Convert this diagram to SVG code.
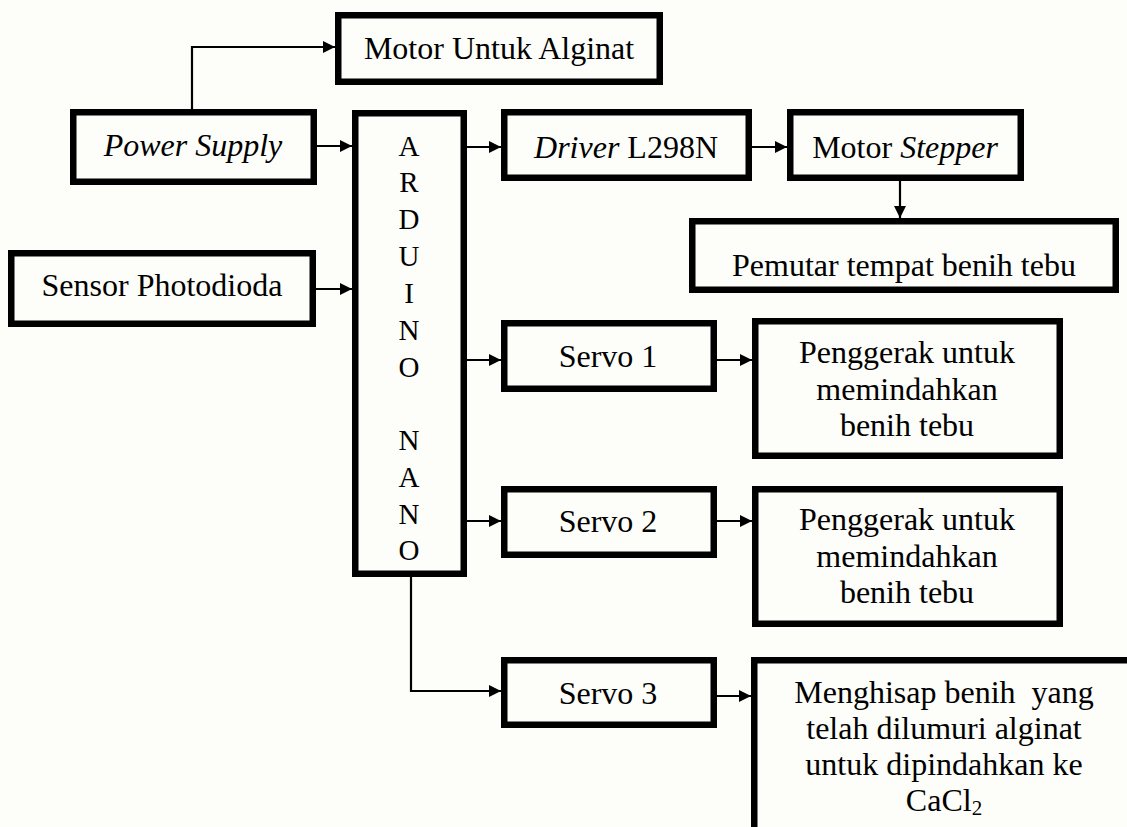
<svg xmlns="http://www.w3.org/2000/svg" width="1127" height="827" viewBox="0 0 1127 827">
<style>
.box{fill:#fdfdf9;stroke:#000;stroke-width:6.5}
.t{font-family:"Liberation Serif","Times New Roman",serif;font-size:32px;fill:#000;text-anchor:middle}
.a{font-family:"Liberation Serif","Times New Roman",serif;font-size:29px;fill:#000;text-anchor:middle}
.c{fill:none;stroke:#000;stroke-width:2.2}
</style>
<defs>
<marker id="ah" markerUnits="userSpaceOnUse" markerWidth="14" markerHeight="14" refX="12" refY="6" orient="auto">
<path d="M0,0 L12,6 L0,12 Z" fill="#000"/>
</marker>
</defs>
<rect width="1127" height="827" fill="#fdfdf9"/>
<g id="connectors">
<path class="c" d="M192,109 V47 H335" marker-end="url(#ah)"/>
<path class="c" d="M317,146 H352" marker-end="url(#ah)"/>
<path class="c" d="M316,289 H352" marker-end="url(#ah)"/>
<path class="c" d="M467,147 H501" marker-end="url(#ah)"/>
<path class="c" d="M752,147 H787" marker-end="url(#ah)"/>
<path class="c" d="M900,181 V218" marker-end="url(#ah)"/>
<path class="c" d="M467,360 H501" marker-end="url(#ah)"/>
<path class="c" d="M717,360 H752" marker-end="url(#ah)"/>
<path class="c" d="M467,521 H501" marker-end="url(#ah)"/>
<path class="c" d="M717,521 H752" marker-end="url(#ah)"/>
<path class="c" d="M411,577 V691 H501" marker-end="url(#ah)"/>
<path class="c" d="M717,696 H751" marker-end="url(#ah)"/>
</g>
<g id="motor-alginat">
<rect class="box" x="338.25" y="15.25" width="321.5" height="66.5"/>
<text class="t" x="499" y="59">Motor Untuk Alginat</text>
</g>
<g id="power-supply">
<rect class="box" x="73.25" y="112.25" width="240.5" height="69.5"/>
<text class="t" x="193" y="156" font-style="italic">Power Supply</text>
</g>
<g id="sensor">
<rect class="box" x="11.25" y="253.25" width="301.5" height="70.5"/>
<text class="t" x="162" y="296">Sensor Photodioda</text>
</g>
<g id="arduino">
<rect class="box" x="355.25" y="113.25" width="108.5" height="460.5"/>
<text class="a" x="409" y="156">A</text>
<text class="a" x="409" y="192">R</text>
<text class="a" x="409" y="229">D</text>
<text class="a" x="409" y="266">U</text>
<text class="a" x="409" y="303">I</text>
<text class="a" x="409" y="340">N</text>
<text class="a" x="409" y="377">O</text>
<text class="a" x="409" y="450">N</text>
<text class="a" x="409" y="487">A</text>
<text class="a" x="409" y="524">N</text>
<text class="a" x="409" y="560">O</text>
</g>
<g id="driver">
<rect class="box" x="504.25" y="112.25" width="244.5" height="65.5"/>
<text class="t" x="626" y="158"><tspan font-style="italic">Driver</tspan> L298N</text>
</g>
<g id="motor-stepper">
<rect class="box" x="790.25" y="112.25" width="230.5" height="65.5"/>
<text class="t" x="905" y="158">Motor <tspan font-style="italic">Stepper</tspan></text>
</g>
<g id="pemutar">
<rect class="box" x="692.25" y="221.25" width="423.5" height="68.5"/>
<text class="t" x="904" y="276">Pemutar tempat benih tebu</text>
</g>
<g id="servo1">
<rect class="box" x="504.25" y="323.25" width="209.5" height="65.5"/>
<text class="t" x="608" y="367">Servo 1</text>
</g>
<g id="penggerak1">
<rect class="box" x="755.25" y="321.25" width="304.5" height="134.5"/>
<text class="t" x="907" y="363">Penggerak untuk</text>
<text class="t" x="907" y="400">memindahkan</text>
<text class="t" x="907" y="436">benih tebu</text>
</g>
<g id="servo2">
<rect class="box" x="504.25" y="489.25" width="209.5" height="65.5"/>
<text class="t" x="608" y="532">Servo 2</text>
</g>
<g id="penggerak2">
<rect class="box" x="755.25" y="489.25" width="304.5" height="134.5"/>
<text class="t" x="907" y="530">Penggerak untuk</text>
<text class="t" x="907" y="567">memindahkan</text>
<text class="t" x="907" y="603">benih tebu</text>
</g>
<g id="servo3">
<rect class="box" x="504.25" y="660.25" width="209.5" height="64.5"/>
<text class="t" x="608" y="704">Servo 3</text>
</g>
<g id="menghisap">
<rect class="box" x="754.25" y="660.25" width="420" height="220"/>
<text class="t" x="944" y="703" xml:space="preserve">Menghisap benih  yang</text>
<text class="t" x="944" y="739">telah dilumuri alginat</text>
<text class="t" x="944" y="775">untuk dipindahkan ke</text>
<text class="t" x="944" y="811">CaCl<tspan font-size="21" dy="4">2</tspan></text>
</g>
</svg>
